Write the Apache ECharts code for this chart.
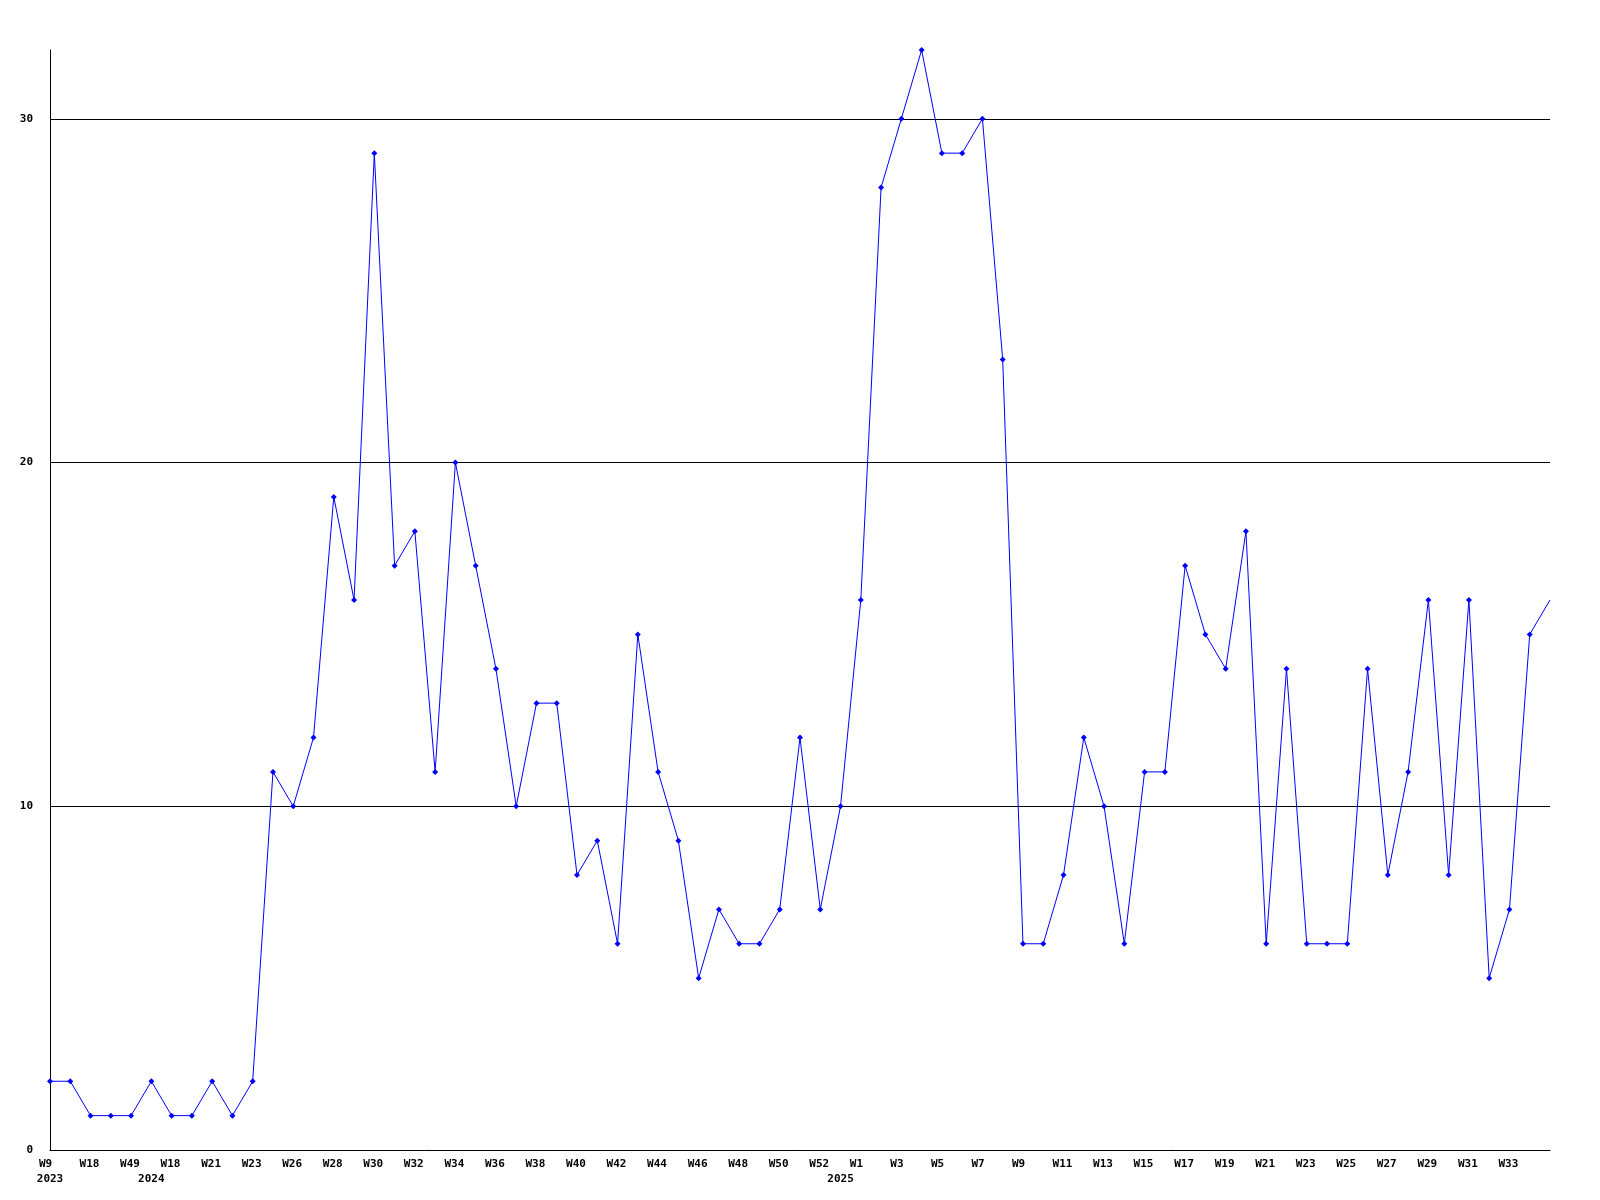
<!DOCTYPE html>
<html>
<head>
<meta charset="utf-8">
<script src="https://cdn.jsdelivr.net/npm/echarts@6/dist/echarts.min.js"></script>
<style>
html,body{margin:0;padding:0;background:#fff;}
#chart{width:1600px;height:1200px;}
</style>
</head>
<body>
<div id="chart"></div>
<script>
// Week categories (one per data point)
const weeks = [
  'W9','W12','W18','W30','W49',
  'W2','W18','W20','W21','W22','W23','W25',
  'W26','W27','W28','W29','W30','W31','W32','W33','W34','W35','W36','W37','W38','W39',
  'W40','W41','W42','W43','W44','W45','W46','W47','W48','W49','W50','W51','W52',
  'W0','W1','W2','W3','W4','W5','W6','W7','W8','W9','W10','W11','W12','W13','W14',
  'W15','W16','W17','W18','W19','W20','W21','W22','W23','W24','W25','W26','W27',
  'W28','W29','W30','W31','W32','W33','W34','W35'
];
// Year labels and the index of the first point of each year
const years = ['2023', '2024', '2025'];
const yearStarts = [0, 5, 39];
// Values
const values = [
  2,2,1,1,1,
  2,1,1,2,1,2,11,
  10,12,19,16,29,17,18,11,20,17,14,10,13,13,
  8,9,6,15,11,9,5,7,6,6,7,12,7,
  10,16,28,30,32,29,29,30,23,6,6,8,12,10,6,
  11,11,17,15,14,18,6,14,6,6,6,14,8,
  11,16,8,16,5,7,15,16
];
const yTicks = [0, 10, 20, 30];

const chart = echarts.init(document.getElementById('chart'));
const font = '"DejaVu Sans Mono", "Liberation Mono", monospace';

const seriesData = values.map((v, i) => i === values.length - 1 ? {value: v, symbolSize: 0} : v);

chart.setOption({
  animation: false,
  backgroundColor: '#ffffff',
  grid: {left: 50, right: 50, top: 50, bottom: 50, containLabel: false},
  xAxis: [
    {
      type: 'category',
      data: weeks,
      boundaryGap: false,
      axisLine: {show: true, lineStyle: {color: '#000', width: 1}},
      axisTick: {show: false},
      splitLine: {show: false},
      axisLabel: {
        interval: 1,
        margin: 9,
        formatter: (v, i) => i === weeks.length - 1 ? '' : '{w|' + v + '}',
        rich: {
          w: {width: 22, align: 'left', fontFamily: font, fontWeight: 'bold', fontSize: 11, color: '#000'}
        },
        fontFamily: font, fontWeight: 'bold', fontSize: 11, color: '#000'
      }
    },
    {
      type: 'category',
      data: weeks,
      position: 'bottom',
      boundaryGap: false,
      axisLine: {show: false},
      axisTick: {show: false},
      splitLine: {show: false},
      axisLabel: {
        interval: 0,
        margin: 24,
        formatter: (v, i) => {
          const k = yearStarts.indexOf(i);
          return k >= 0 ? years[k] : '';
        },
        fontFamily: font, fontWeight: 'bold', fontSize: 11, color: '#000'
      }
    }
  ],
  yAxis: {
    type: 'value',
    min: 0,
    max: 32,
    interval: 10,
    axisLine: {show: true, lineStyle: {color: '#000', width: 1}},
    axisTick: {show: false},
    splitLine: {show: true, showMaxLine: false, showMinLine: false, lineStyle: {color: '#000', width: 1}},
    axisLabel: {
      margin: 17,
      showMaxLabel: false,
      formatter: v => (yTicks.indexOf(v) >= 0 ? String(v) : ''),
      fontFamily: font, fontWeight: 'bold', fontSize: 11, color: '#000'
    }
  },
  series: [{
    type: 'line',
    data: seriesData,
    xAxisIndex: 0,
    symbol: 'diamond',
    symbolSize: 6,
    showAllSymbol: true,
    lineStyle: {color: '#0000ff', width: 1},
    itemStyle: {color: '#0000ff'},
    clip: false
  }]
});
</script>
</body>
</html>
